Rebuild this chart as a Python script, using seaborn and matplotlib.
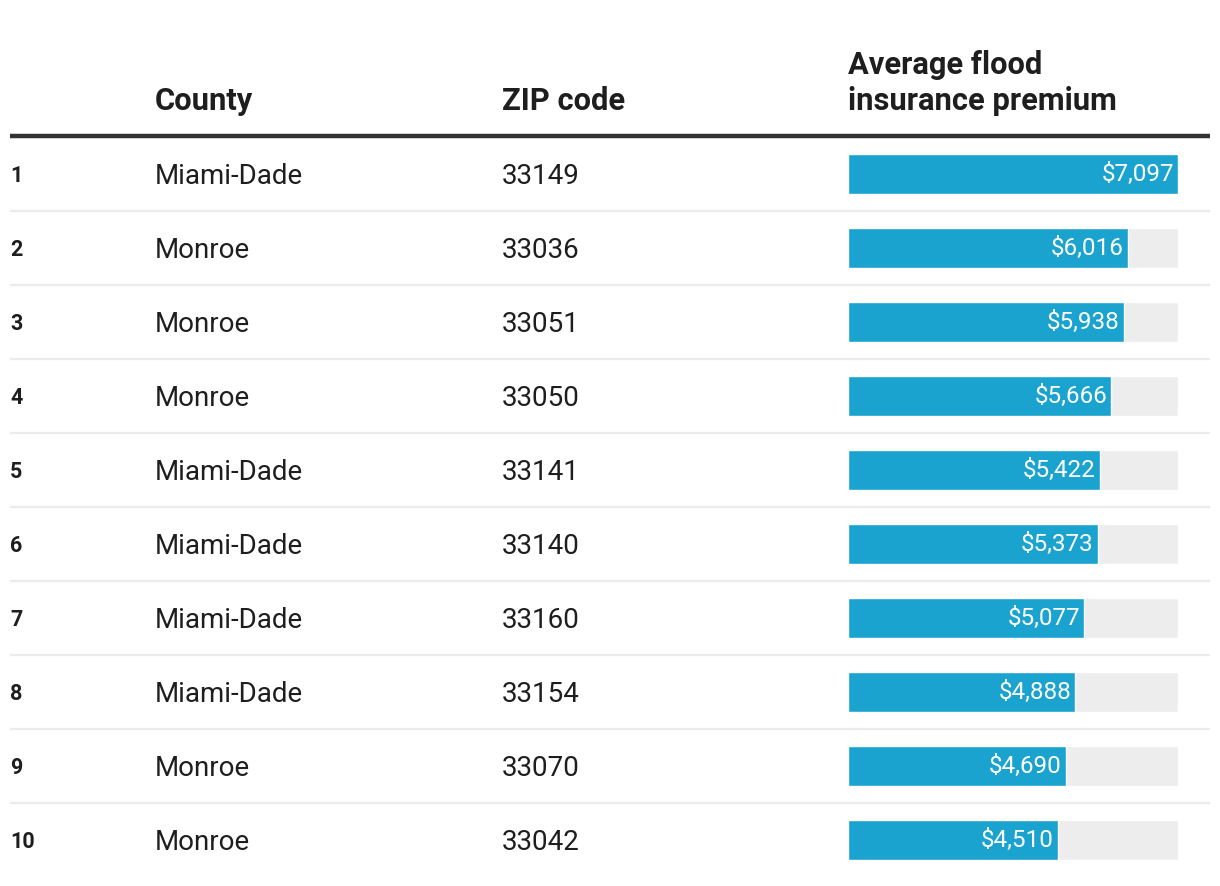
"""Top 10 Florida ZIP codes by average flood insurance premium, as a table with bars."""

import matplotlib.pyplot as plt
import pandas as pd
import seaborn as sns

ranks = [1, 2, 3, 4, 5, 6, 7, 8, 9, 10]
counties = ["Miami-Dade", "Monroe", "Monroe", "Monroe", "Miami-Dade",
            "Miami-Dade", "Miami-Dade", "Miami-Dade", "Monroe", "Monroe"]
zips = ["33149", "33036", "33051", "33050", "33141",
        "33140", "33160", "33154", "33070", "33042"]
premiums = [7097, 6016, 5938, 5666, 5422, 5373, 5077, 4888, 4690, 4510]

headers = ["County", "ZIP code", "Average flood\ninsurance premium"]

BLUE = "#1aa3cf"
TRACK = "#ededed"
TEXT = "#1e1e1e"

W, H = 1220, 886
ROW0, ROW_H = 174, 74
COL_RANK, COL_COUNTY, COL_ZIP, COL_BAR = 10, 155, 502, 848
BAR_W = 330

sns.set_theme(style="white")
plt.rcParams["font.family"] = ["Roboto", "DejaVu Sans"]

df = pd.DataFrame({
    "rank": ranks,
    "county": counties,
    "zip": zips,
    "premium": premiums,
})
df["row"] = df["rank"].astype(str)
df["track"] = df["premium"].max()

fig = plt.figure(figsize=(W / 100, H / 100), dpi=100)

# canvas axes in pixel units for text and rules
ax = fig.add_axes([0, 0, 1, 1])
ax.set_xlim(0, W)
ax.set_ylim(H, 0)
ax.axis("off")

# header
ax.text(COL_COUNTY, 101, headers[0], fontsize=22.2, fontweight="bold",
        color=TEXT, va="center")
ax.text(COL_ZIP, 101, headers[1], fontsize=22.2, fontweight="bold",
        color=TEXT, va="center")
ax.text(COL_BAR, 83, headers[2], fontsize=22.2, fontweight="bold",
        color=TEXT, va="center", linespacing=1.27)
ax.plot([10, 1210], [136, 136], color="#333333", lw=3.2, solid_capstyle="butt")

for i, r in df.iterrows():
    yc = ROW0 + i * ROW_H
    ax.text(COL_RANK, yc + 2, str(r["rank"]), fontsize=15.5, fontweight="bold",
            color=TEXT, va="center")
    ax.text(COL_COUNTY, yc + 2, r["county"], fontsize=20, color=TEXT, va="center")
    ax.text(COL_ZIP, yc + 2, r["zip"], fontsize=20, color=TEXT, va="center")
    if i < len(df) - 1:
        ax.plot([10, 1210], [yc + ROW_H / 2] * 2, color="#ebebeb", lw=1.6,
                solid_capstyle="butt")

# bar axes: one category per row
top = ROW0 - ROW_H / 2
bottom = ROW0 + (len(df) - 0.5) * ROW_H
bax = fig.add_axes([COL_BAR / W, 1 - bottom / H, BAR_W / W, (bottom - top) / H])
sns.barplot(data=df, x="track", y="row", color=TRACK, width=0.54,
            saturation=1, ax=bax)
sns.barplot(data=df, x="premium", y="row", color=BLUE, width=0.54,
            saturation=1, ax=bax)
bax.set_xlim(0, df["premium"].max())
bax.set_ylim(len(df) - 0.5, -0.5)
bax.axis("off")

for i, v in enumerate(df["premium"]):
    bax.text(v - 90, i, f"${v:,}", color="white", fontsize=17.5,
             ha="right", va="center")

fig.savefig("out.png", dpi=100)
